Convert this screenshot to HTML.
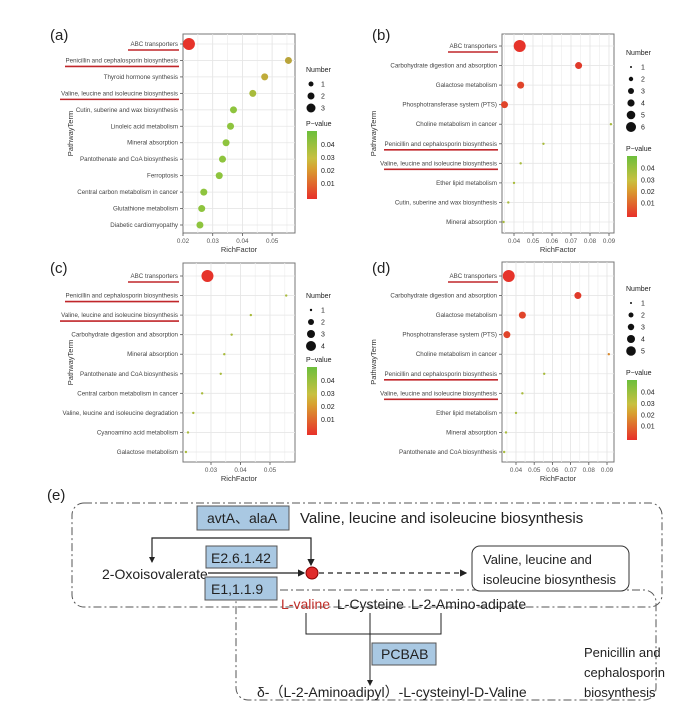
<!DOCTYPE html>
<html><head><meta charset="utf-8"><style>
html,body{margin:0;padding:0;background:#fff;}
svg{display:block;font-family:"Liberation Sans","Noto Sans CJK SC",sans-serif;}
</style></head><body>
<svg id="s" width="700" height="719" viewBox="0 0 700 719" xmlns="http://www.w3.org/2000/svg">
<defs>
<linearGradient id="pg" x1="0" y1="1" x2="0" y2="0">
<stop offset="0" stop-color="#e8302a"/><stop offset="0.45" stop-color="#d8a030"/><stop offset="0.6" stop-color="#c8c040"/><stop offset="1" stop-color="#6cbf3c"/>
</linearGradient>
<marker id="ar" markerWidth="6" markerHeight="6" refX="5" refY="3" orient="auto"><path d="M0,0 L6,3 L0,6z" fill="#222"/></marker>
</defs>
<g id="charts"></g>
<g font-size="14" fill="#222">
<text x="47" y="500" font-size="15">(e)</text>
<rect x="72" y="503" width="590" height="104" rx="12" fill="none" stroke="#555" stroke-dasharray="8,3,2,3"/>
<rect x="236" y="590" width="420" height="110" rx="12" fill="none" stroke="#555" stroke-dasharray="8,3,2,3"/>
<rect x="197" y="506" width="92" height="24" fill="#a9c8e2" stroke="#555"/>
<text x="207" y="523">avtA、alaA</text>
<text x="300" y="523" font-size="15">Valine, leucine and isoleucine biosynthesis</text>
<polyline points="152,562 152,538 311,538 311,565" fill="none" stroke="#222" stroke-width="1.2" marker-end="url(#ar)"/>
<line x1="152" y1="545" x2="152" y2="562" stroke="#222" marker-end="url(#ar)"/>
<rect x="206" y="546" width="71" height="22" fill="#a9c8e2" stroke="#555"/>
<text x="211" y="563">E2.6.1.42</text>
<text x="102" y="579">2-Oxoisovalerate</text>
<line x1="208" y1="573" x2="304" y2="573" stroke="#222" stroke-width="1.2" marker-end="url(#ar)"/>
<circle cx="312" cy="573" r="6" fill="#e02a2a" stroke="#800"/>
<line x1="319" y1="573" x2="466" y2="573" stroke="#222" stroke-width="1.2" stroke-dasharray="5,4" marker-end="url(#ar)"/>
<rect x="472" y="546" width="157" height="45" rx="8" fill="#fff" stroke="#333"/>
<text x="483" y="564" font-size="13">Valine, leucine and</text>
<text x="483" y="584" font-size="13">isoleucine biosynthesis</text>
<rect x="205" y="577" width="72" height="23" fill="#a9c8e2" stroke="#555"/>
<text x="211" y="594">E1,1.1.9</text>
<text x="281" y="609" fill="#c0302a">L-valine</text>
<text x="337" y="609">L-Cysteine</text>
<text x="411" y="609">L-2-Amino-adipate</text>
<polyline points="306,613 306,634 441,634 441,613" fill="none" stroke="#222"/>
<line x1="370" y1="613" x2="370" y2="685" stroke="#222" marker-end="url(#ar)"/>
<rect x="372" y="643" width="64" height="22" fill="#a9c8e2" stroke="#555"/>
<text x="381" y="659">PCBAB</text>
<text x="257" y="697">δ-（L-2-Aminoadipyl）-L-cysteinyl-D-Valine</text>
<text x="584" y="657" font-size="13">Penicillin and</text>
<text x="584" y="677" font-size="13">cephalosporin</text>
<text x="584" y="697" font-size="13">biosynthesis</text>
</g>
</svg>
<script>
const NS="http://www.w3.org/2000/svg";const G=document.getElementById("charts");
function el(t,a,txt){const e=document.createElementNS(NS,t);for(const k in a)e.setAttribute(k,a[k]);if(txt!==undefined)e.textContent=txt;G.appendChild(e);return e;}
const R="#e6332a",O="#d45a2a",Y="#b9a43a",Y2="#c0ac3a",LG="#a8bb3c",GN="#8ec43e";
function panel(p){
 el("text",{x:p.lx,y:p.ly,"font-size":15,fill:"#222"},p.lab);
 const L=p.L,Rt=p.R,T=p.T,B=p.B;
 el("rect",{x:L,y:T,width:Rt-L,height:B-T,fill:"#fff",stroke:"#777","stroke-width":1});
 for(let v=p.gmin;v<=p.gmax+1e-9;v+=0.005){const x=p.x0+(v-p.v0)*p.k;if(x>L&&x<Rt)el("line",{x1:x,y1:T,x2:x,y2:B,stroke:Math.abs(Math.round(v*100)-v*100)<1e-6?"#e2e2e2":"#f0f0f0","stroke-width":0.8});}
 const n=p.rows.length,st=(p.yl-p.y1)/(n-1);
 p.rows.forEach((r,i)=>{const y=p.y1+i*st;el("line",{x1:L,y1:y,x2:Rt,y2:y,stroke:"#e6e6e6","stroke-width":0.8});
  el("line",{x1:L-3,y1:y,x2:L,y2:y,stroke:"#555","stroke-width":0.8});
  el("text",{x:L-5,y:y+2,"font-size":6.2,"text-anchor":"end",fill:"#444"},r[0]);
  if(r[4]){el("line",{x1:r[4],y1:y+6,x2:L-4,y2:y+6,stroke:"#c0262a","stroke-width":1.6});}
  el("circle",{cx:p.x0+(r[1]-p.v0)*p.k,cy:y,r:r[2],fill:r[3]});});
 p.ticks.forEach(v=>{const x=p.x0+(v-p.v0)*p.k;el("line",{x1:x,y1:B,x2:x,y2:B+3,stroke:"#555","stroke-width":0.8});el("text",{x:x,y:B+10,"font-size":6.3,"text-anchor":"middle",fill:"#555"},v.toFixed(2));});
 el("text",{x:(L+Rt)/2,y:B+19,"font-size":7.5,"text-anchor":"middle",fill:"#333"},"RichFactor");
 const ym=(T+B)/2;el("text",{x:p.px,y:ym,"font-size":7.5,"text-anchor":"middle",fill:"#333",transform:`rotate(-90 ${p.px} ${ym})`},"PathwayTerm");
 el("text",{x:p.nx,y:p.ny,"font-size":7,fill:"#222"},"Number");
 p.sizes.forEach((s,i)=>{const y=p.ny+12+i*12;el("circle",{cx:p.nx+5,cy:y,r:s,fill:"#111"});el("text",{x:p.nx+15,y:y+2.5,"font-size":7,fill:"#222"},String(i+1));});
 el("text",{x:p.nx,y:p.cy-5,"font-size":7,fill:"#222"},"P−value");
 el("rect",{x:p.nx+1,y:p.cy,width:10,height:p.ch,fill:"url(#pg)"});
 ["0.04","0.03","0.02","0.01"].forEach((t,i)=>{el("text",{x:p.nx+15,y:p.cy+p.ch*(0.2+i*0.19)+2.5,"font-size":7,fill:"#222"},t);});
}
panel({lab:"(a)",lx:50,ly:40,L:183,R:295,T:34,B:233,x0:183,v0:0.02,k:2970,gmin:0.02,gmax:0.06,ticks:[0.02,0.03,0.04,0.05],y1:44,yl:225,px:73,nx:306,ny:72,sizes:[2.5,3.5,4.5],cy:131,ch:68,
rows:[["ABC transporters",0.022,6,R,128],["Penicillin and cephalosporin biosynthesis",0.0555,3.5,Y,65],["Thyroid hormone synthesis",0.0475,3.5,Y2],["Valine, leucine and isoleucine biosynthesis",0.0435,3.5,LG,60],["Cutin, suberine and wax biosynthesis",0.037,3.5,GN],["Linoleic acid metabolism",0.036,3.5,GN],["Mineral absorption",0.0345,3.5,GN],["Pantothenate and CoA biosynthesis",0.0333,3.5,GN],["Ferroptosis",0.0322,3.5,GN],["Central carbon metabolism in cancer",0.027,3.5,GN],["Glutathione metabolism",0.0263,3.5,GN],["Diabetic cardiomyopathy",0.0257,3.5,GN]]});
panel({lab:"(b)",lx:372,ly:40,L:502,R:614,T:34,B:233,x0:514,v0:0.04,k:1900,gmin:0.035,gmax:0.095,ticks:[0.04,0.05,0.06,0.07,0.08,0.09],y1:46,yl:222,px:376,nx:626,ny:55,sizes:[1,2.2,3,3.6,4.3,5],cy:156,ch:61,
rows:[["ABC transporters",0.043,6,R,448],["Carbohydrate digestion and absorption",0.074,3.5,"#e03a2a"],["Galactose metabolism",0.0435,3.5,"#e0442a"],["Phosphotransferase system (PTS)",0.035,3.5,"#e0442a"],["Choline metabolism in cancer",0.091,1.2,LG],["Penicillin and cephalosporin biosynthesis",0.0555,1.2,LG,384],["Valine, leucine and isoleucine biosynthesis",0.0435,1.2,LG,384],["Ether lipid metabolism",0.04,1.2,LG],["Cutin, suberine and wax biosynthesis",0.037,1.2,LG],["Mineral absorption",0.0345,1.2,LG]]});
panel({lab:"(c)",lx:50,ly:273,L:183,R:295,T:263,B:462,x0:211,v0:0.03,k:2950,gmin:0.02,gmax:0.06,ticks:[0.03,0.04,0.05],y1:276,yl:452,px:73,nx:306,ny:298,sizes:[1.2,3,4,5],cy:367,ch:68,
rows:[["ABC transporters",0.0288,6,R,128],["Penicillin and cephalosporin biosynthesis",0.0555,1.2,LG,65],["Valine, leucine and isoleucine biosynthesis",0.0435,1.2,LG,60],["Carbohydrate digestion and absorption",0.037,1.2,LG],["Mineral absorption",0.0345,1.2,LG],["Pantothenate and CoA biosynthesis",0.0333,1.2,LG],["Central carbon metabolism in cancer",0.027,1.2,LG],["Valine, leucine and isoleucine degradation",0.024,1.2,LG],["Cyanoamino acid metabolism",0.0222,1.2,LG],["Galactose metabolism",0.0215,1.2,LG]]});
panel({lab:"(d)",lx:372,ly:273,L:502,R:614,T:262,B:462,x0:516,v0:0.04,k:1820,gmin:0.035,gmax:0.095,ticks:[0.04,0.05,0.06,0.07,0.08,0.09],y1:276,yl:452,px:376,nx:626,ny:291,sizes:[1,2.5,3.2,4,4.8],cy:380,ch:60,
rows:[["ABC transporters",0.036,6,R,448],["Carbohydrate digestion and absorption",0.074,3.5,"#e03a2a"],["Galactose metabolism",0.0435,3.5,"#e0442a"],["Phosphotransferase system (PTS)",0.035,3.5,"#e0442a"],["Choline metabolism in cancer",0.091,1.2,"#d88a30"],["Penicillin and cephalosporin biosynthesis",0.0555,1.2,LG,384],["Valine, leucine and isoleucine biosynthesis",0.0435,1.2,LG,384],["Ether lipid metabolism",0.04,1.2,LG],["Mineral absorption",0.0345,1.2,LG],["Pantothenate and CoA biosynthesis",0.0335,1.2,LG]]});
</script>
</body></html>
